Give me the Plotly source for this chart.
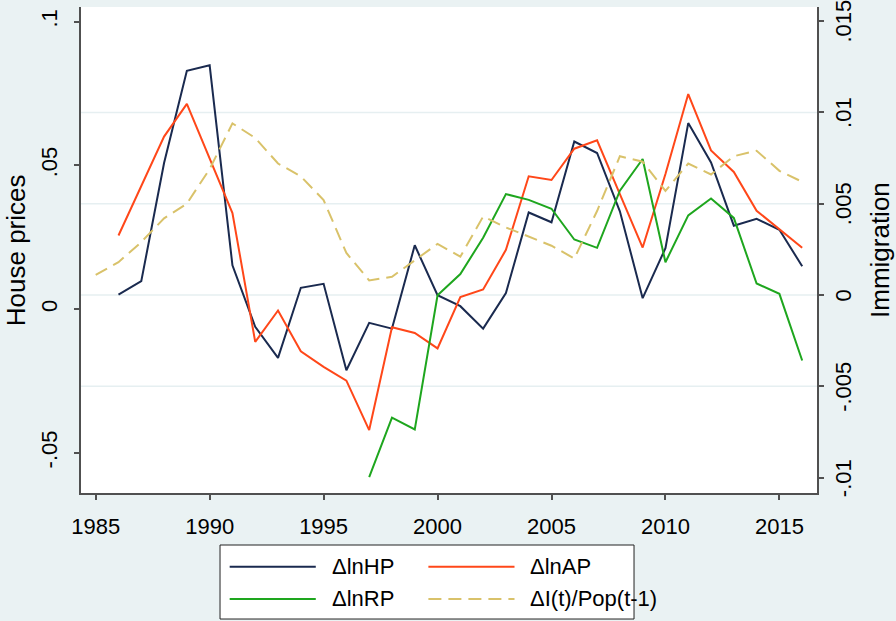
import plotly.graph_objects as go

# Colours (Stata s2color look)
NAVY = "#1a2a4f"
RED = "#ff4719"
GREEN = "#1ea61e"
SAND = "#d9c26a"
BG = "#eaf2f3"
GRID = "#e6eff1"
AXIS = "#505050"
FONT = "Arial, 'Liberation Sans', sans-serif"

years = list(range(1985, 2017))
years_hp = list(range(1986, 2017))
years_rp = list(range(1997, 2017))

d_ln_hp = [0.0050, 0.0097, 0.0508, 0.0829, 0.0848, 0.0152, -0.0062, -0.0170, 0.0074, 0.0088,
           -0.0213, -0.0048, -0.0068, 0.0222, 0.0048, 0.0010, -0.0068, 0.0056, 0.0336, 0.0302,
           0.0583, 0.0543, 0.0340, 0.0038, 0.0212, 0.0647, 0.0510, 0.0290, 0.0314, 0.0276, 0.0149]
d_ln_ap = [0.0256, 0.0430, 0.0600, 0.0714, 0.0523, 0.0334, -0.0114, -0.0005, -0.0147, -0.0201,
           -0.0249, -0.0421, -0.0063, -0.0083, -0.0137, 0.0042, 0.0068, 0.0206, 0.0462, 0.0449,
           0.0558, 0.0587, 0.0400, 0.0214, 0.0470, 0.0748, 0.0552, 0.0477, 0.0342, 0.0276, 0.0213]
d_ln_rp = [-0.0585, -0.0378, -0.0419, 0.0048, 0.0122, 0.0248, 0.0400, 0.0380, 0.0349, 0.0242,
           0.0213, 0.0412, 0.0522, 0.0163, 0.0326, 0.0385, 0.0317, 0.0089, 0.0053, -0.0179]
immig = [0.0011, 0.0018, 0.0029, 0.0042, 0.0050, 0.0069, 0.0094, 0.0086, 0.0072, 0.0065,
         0.0052, 0.0023, 0.0008, 0.0010, 0.0019, 0.0028, 0.0021, 0.0043, 0.0037, 0.0032,
         0.0027, 0.0020, 0.0046, 0.0076, 0.0073, 0.0057, 0.0072, 0.0066, 0.0076, 0.0079,
         0.0068, 0.0062]

x_ticks = [1985, 1990, 1995, 2000, 2005, 2010, 2015]
left_ticks = [-0.05, 0, 0.05, 0.1]
left_labels = ["-.05", "0", ".05", ".1"]
right_ticks = [-0.01, -0.005, 0, 0.005, 0.01, 0.015]
right_labels = ["-.01", "-.005", "0", ".005", ".01", ".015"]
grid_vals = [-0.005, 0, 0.005, 0.01]

legend_names = ["\u0394lnHP", "\u0394lnAP", "\u0394lnRP", "\u0394I(t)/Pop(t-1)"]

fig = go.Figure()
fig.add_trace(go.Scatter(x=years_hp, y=d_ln_hp, mode="lines", name=legend_names[0],
                         line=dict(color=NAVY, width=2)))
fig.add_trace(go.Scatter(x=years_hp, y=d_ln_ap, mode="lines", name=legend_names[1],
                         line=dict(color=RED, width=2)))
fig.add_trace(go.Scatter(x=years_rp, y=d_ln_rp, mode="lines", name=legend_names[2],
                         line=dict(color=GREEN, width=2)))
fig.add_trace(go.Scatter(x=years, y=immig, mode="lines", name=legend_names[3], yaxis="y2",
                         line=dict(color=SAND, width=2, dash="13px,7px")))

# gridlines belong to the right axis, without the outermost ticks
for g in grid_vals:
    fig.add_shape(type="line", xref="paper", x0=0, x1=1, yref="y2", y0=g, y1=g,
                  line=dict(color=GRID, width=1.5), layer="below")

# right axis labels as rotated annotations (plotly offsets rotated right-side labels)
for v, lab in zip(right_ticks, right_labels):
    fig.add_annotation(xref="paper", yref="y2", x=1.036, y=v, text=lab, showarrow=False,
                       textangle=-90, xanchor="center", yanchor="middle",
                       font=dict(size=22, color="black"))

# axis titles
fig.add_annotation(xref="paper", yref="paper", x=-0.088, y=0.5, text="House prices",
                   showarrow=False, textangle=-90, xanchor="center", yanchor="middle",
                   font=dict(size=26, color="black"))
fig.add_annotation(xref="paper", yref="paper", x=1.0856, y=0.5, text="Immigration",
                   showarrow=False, textangle=-90, xanchor="center", yanchor="middle",
                   font=dict(size=26, color="black"))

# hand-made Stata style legend below the plot
fig.add_shape(type="rect", xref="paper", yref="paper", x0=0.1889, x1=0.7514, y0=-0.2593, y1=-0.107,
              line=dict(color="#222", width=1), fillcolor="white")
legend_pos = [(0.202, -0.1516), (0.472, -0.1516), (0.202, -0.2181), (0.472, -0.2181)]
legend_style = [(NAVY, "solid"), (RED, "solid"), (GREEN, "solid"), (SAND, "13px,7px")]
for name, (lx, ly), (col, dash) in zip(legend_names, legend_pos, legend_style):
    fig.add_shape(type="line", xref="paper", yref="paper", x0=lx, x1=lx + 0.117, y0=ly, y1=ly,
                  line=dict(color=col, width=2, dash=dash))
    fig.add_annotation(xref="paper", yref="paper", x=lx + 0.136, y=ly, text=name, showarrow=False,
                       xanchor="left", yanchor="middle", font=dict(size=22, color="black"))

axis_common = dict(showline=True, linecolor=AXIS, linewidth=1.5, ticks="outside", ticklen=5,
                   tickcolor=AXIS, tickwidth=1.5, zeroline=False, showgrid=False, automargin=False,
                   tickfont=dict(size=22, color="black"), ticklabelstandoff=8,
                   ticklabeloverflow="allow")

fig.update_layout(
    width=896, height=621,
    paper_bgcolor=BG, plot_bgcolor="white",
    font=dict(family=FONT, color="black"),
    showlegend=False,
    margin=dict(l=81, r=79, t=7, b=128),
    xaxis=dict(**axis_common, range=[1984.355, 2016.65], tickvals=x_ticks),
    yaxis=dict(**axis_common, range=[-0.064, 0.1051], tickvals=left_ticks, ticktext=left_labels,
               tickangle=-90),
    yaxis2=dict(**axis_common, range=[-0.01084, 0.01577], tickvals=right_ticks,
                showticklabels=False, overlaying="y", side="right"),
)

# the page's default body margin would shift the 896x621 figure
fig.write_html("out.html", config={"displayModeBar": False},
               post_script="document.body.style.margin='0';")
